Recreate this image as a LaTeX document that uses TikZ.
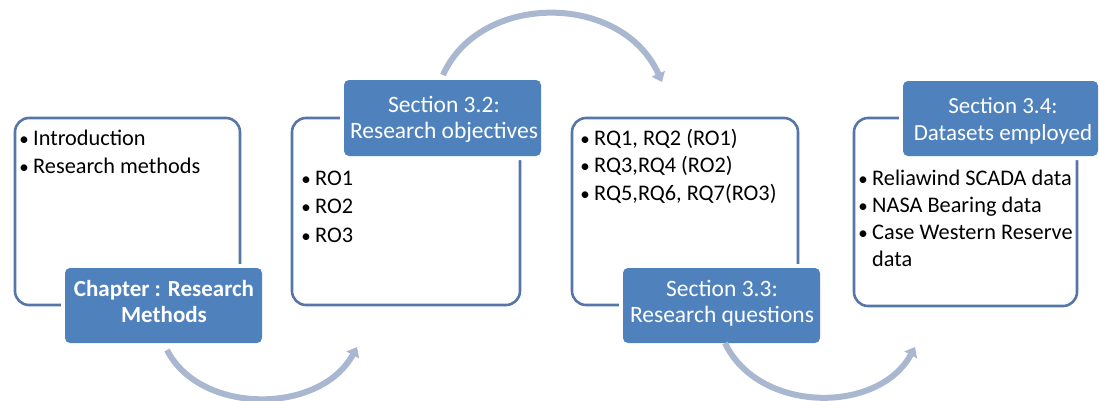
\documentclass[tikz,border=0pt]{standalone}
\usepackage{fontspec}
\setmainfont{Carlito}
\usetikzlibrary{arrows.meta}
\definecolor{outl}{HTML}{5676A8}
\definecolor{lblfill}{HTML}{4F81BD}
\definecolor{arrc}{HTML}{A9B7D0}
\newcommand{\bul}{\makebox[18pt][c]{\scalebox{0.85}{•}}}
\newcommand{\hang}{\hspace*{18pt}}
\tikzset{
  outlinebox/.style={draw=outl, line width=2.6pt, rounded corners=14pt},
  labelbox/.style={fill=lblfill, rounded corners=5pt, preaction={draw=white, line width=8pt}},
  labeltext/.style={text=white, font=\fontsize{23.5}{25.5}\selectfont, align=center, inner sep=0pt, anchor=base},
  listtext/.style={text=black, font=\fontsize{22.3}{28}\selectfont, align=left, anchor=base west, inner sep=0pt},
  flowarrow/.style={draw=arrc, line width=6pt, -{Triangle[length=9pt,width=14pt]}}
}
\begin{document}
\begin{tikzpicture}[x=1pt,y=-1pt]
\useasboundingbox (0,0) rectangle (1100,400);
% outline boxes
\draw[outlinebox] (15,118) rectangle (240,305);
\draw[outlinebox] (292,118) rectangle (520,305);
\draw[outlinebox] (572,118) rectangle (798,305);
\draw[outlinebox] (854,118) rectangle (1077,306);
% label boxes
\path[labelbox] (65,268) rectangle (262,343);
\path[labelbox] (344,80) rectangle (541,156);
\path[labelbox] (623,268) rectangle (820,343);
\path[labelbox] (903,81) rectangle (1098,156);
\node[labeltext, font=\fontsize{23}{25.5}\selectfont\bfseries] (l1) at (164,322) {Chapter : Research\\Methods};
\node[labeltext, font=\fontsize{23.5}{26}\selectfont] (l2) at (444,138) {Section 3.2:\\Research objectives};
\node[labeltext] (l3) at (722,322) {Section 3.3:\\Research questions};
\node[labeltext, font=\fontsize{23}{27}\selectfont] (l4) at (1003,140) {Section 3.4:\\Datasets employed};
% lists
\node[listtext] (t1) at (15,173) {\bul Introduction\\\bul Research methods};
\node[listtext, font=\fontsize{22.3}{28.5}\selectfont] (t2) at (297,242) {\bul RO1\\\bul RO2\\\bul RO3};
\node[listtext, font=\fontsize{22.3}{27.5}\selectfont] (t3) at (576,200) {\bul RQ1, RQ2 (RO1)\\\bul RQ3,RQ4 (RO2)\\\bul RQ5,RQ6, RQ7(RO3)};
\node[listtext, font=\fontsize{22.3}{27}\selectfont] (t4) at (854,266) {\bul Reliawind SCADA data\\\bul NASA Bearing data\\\bul Case Western Reserve\\\hang data};
% arrows
\coordinate (a1s) at (167,350); \coordinate (a1e) at (357,347);
\coordinate (a2s) at (443,75); \coordinate (a2e) at (662,82);
\coordinate (a3s) at (725,343); \coordinate (a3e) at (915,347);
\draw[flowarrow] (a1s) .. controls (200,415) and (320,415) .. (a1e);
\draw[flowarrow] (a2s) .. controls (480,-8) and (622,-8) .. (a2e);
\draw[flowarrow] (a3s) .. controls (758,413) and (878,415) .. (a3e);
\end{tikzpicture}
\end{document}
